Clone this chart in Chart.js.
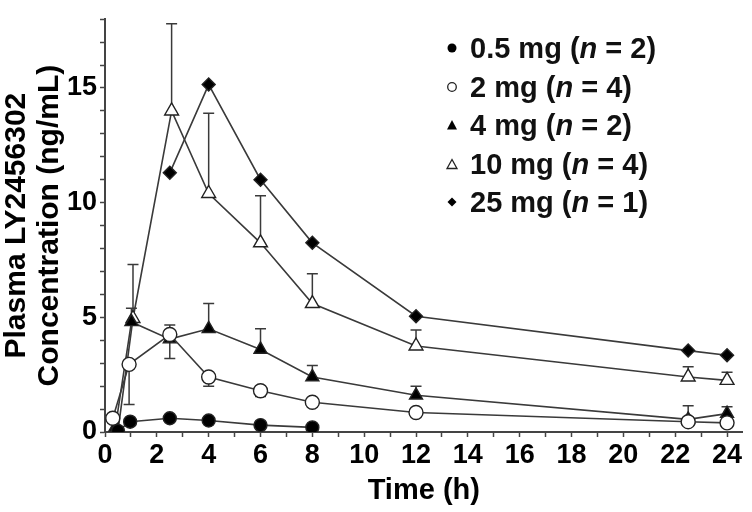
<!DOCTYPE html>
<html>
<head>
<meta charset="utf-8">
<script src="https://cdn.jsdelivr.net/npm/chart.js@4.4.1/dist/chart.umd.min.js"></script>
<style>
  body { margin: 0; background: #fff; }
  #wrap { position: relative; width: 752px; height: 512px; }
  #legend {
    position: absolute; left: 443px; top: 29px;
    font-family: 'Liberation Sans', Arial, sans-serif;
    font-weight: bold; font-size: 29px; color: #111;
  }
  #legend div { height: 38.5px; line-height: 38.5px; white-space: nowrap; }
  #legend svg { width: 18px; height: 14px; vertical-align: middle; margin-right: 9px; position: relative; top: -2px; }
</style>
</head>
<body>
<div id="wrap">
  <canvas id="pkChart" width="752" height="512"></canvas>
  <div id="legend"></div>
</div>
<script>
// time points (h) per dose group
const times05 = [0.5, 0.97, 2.5, 4, 6, 8];
const times2 = [0.3, 0.93, 2.5, 4, 6, 8, 12, 22.5, 24];
const times4 = [0.4, 1.02, 2.5, 4, 6, 8, 12, 22.5, 24];
const times10 = [0.5, 1.08, 2.57, 4, 6, 8, 12, 22.5, 24];
const times25 = [2.5, 4, 6, 8, 12, 22.5, 24];

// mean plasma concentration (ng/mL)
const conc05 = [0.05, 0.45, 0.6, 0.5, 0.3, 0.2];
const conc2 = [0.6, 2.95, 4.25, 2.4, 1.8, 1.3, 0.85, 0.45, 0.4];
const conc4 = [0.2, 4.8, 4.05, 4.5, 3.6, 2.4, 1.6, 0.55, 0.8];
const conc10 = [0.05, 4.95, 14.0, 10.4, 8.25, 5.6, 3.75, 2.4, 2.25];
const conc25 = [11.3, 15.15, 11.0, 8.25, 5.05, 3.55, 3.35];

// SD (one-sided error bars)
const sd2 = [0, 1.75, 1.05, 0.4, 0.25, 0, 0, 0, 0];
const sd4 = [0, 0.6, 0.62, 1.1, 0.9, 0.5, 0.4, 0.6, 0.3];
const sd10 = [0, 2.35, 3.8, 3.5, 2.05, 1.3, 0.7, 0.45, 0.35];

const legendLabels = ['0.5 mg', '2 mg', '4 mg', '10 mg', '25 mg'];
const legendN = [2, 4, 2, 4, 1];

const xTicks = [];
for (let i = 0; i <= 24; i++) xTicks.push(i);
const yTicks = [];
for (let i = 0; i <= 18; i++) yTicks.push(i);

const FONT = "'Liberation Sans', Arial, sans-serif";
const LINE = '#3a3a3a';

function pts(xs, ys) {
    return xs.map((x, i) => ({ x: x, y: ys[i] }));
}

const errorBars = {
    id: 'errorBars',
    beforeDatasetsDraw(chart) {
        const ctx = chart.ctx;
        const xs = chart.scales.x, ys = chart.scales.y;
        ctx.save();
        ctx.strokeStyle = LINE;
        ctx.lineWidth = 1.5;
        chart.data.datasets.forEach(ds => {
            if (!ds.sd) return;
            ds.data.forEach((p, i) => {
                const s = ds.sd[i];
                if (!s) return;
                const px = xs.getPixelForValue(p.x);
                const y0 = ys.getPixelForValue(p.y);
                const y1 = ys.getPixelForValue(p.y + ds.sdDir * s);
                ctx.beginPath();
                ctx.moveTo(px, y0);
                ctx.lineTo(px, y1);
                ctx.moveTo(px - 5.5, y1);
                ctx.lineTo(px + 5.5, y1);
                ctx.stroke();
            });
        });
        ctx.restore();
    }
};

const datasets = [
    { label: legendLabels[0], data: pts(times05, conc05), pointStyle: 'circle', pointRadius: 6.5,
      backgroundColor: '#000', borderColor: LINE },
    { label: legendLabels[1], data: pts(times2, conc2), pointStyle: 'circle', pointRadius: 7,
      backgroundColor: '#fff', borderColor: LINE, sd: sd2, sdDir: -1 },
    { label: legendLabels[2], data: pts(times4, conc4), pointStyle: 'triangle', pointRadius: 7.5,
      backgroundColor: '#000', borderColor: LINE, sd: sd4, sdDir: 1 },
    { label: legendLabels[3], data: pts(times10, conc10), pointStyle: 'triangle', pointRadius: 8,
      backgroundColor: '#fff', borderColor: LINE, sd: sd10, sdDir: 1 },
    { label: legendLabels[4], data: pts(times25, conc25), pointStyle: 'rectRot', pointRadius: 6.5,
      backgroundColor: '#000', borderColor: LINE }
];
datasets.forEach(d => {
    d.borderWidth = 1.6;
    d.pointBorderWidth = 1.4;
    d.pointBorderColor = '#222';
    d.pointBackgroundColor = d.backgroundColor;
    d.showLine = true;
    d.tension = 0;
});

const ctx = document.getElementById('pkChart');
new Chart(ctx, {
    type: 'scatter',
    data: { datasets: datasets },
    plugins: [errorBars],
    options: {
        responsive: false,
        devicePixelRatio: 1,
        animation: false,
        layout: { padding: { top: 2, right: 5, left: 0, bottom: 0 } },
        plugins: { legend: { display: false }, tooltip: { enabled: false } },
        scales: {
            x: {
                type: 'linear', min: 0, max: 24.6,
                afterBuildTicks: s => { s.ticks = xTicks.map(v => ({ value: v })); },
                afterFit: s => { s.height = 80; },
                ticks: {
                    autoSkip: false, maxRotation: 0, padding: 2, color: '#000',
                    font: { family: FONT, size: 27, weight: 'bold' },
                    callback: v => (v % 2 === 0 ? v : '')
                },
                grid: { drawOnChartArea: false, tickLength: 5, color: '#444', tickWidth: 1.5 },
                border: { color: '#444', width: 2 },
                title: { display: true, text: 'Time (h)', color: '#000', padding: { top: 2 },
                         font: { family: FONT, size: 29, weight: 'bold' } }
            },
            y: {
                min: 0, max: 18,
                afterBuildTicks: s => { s.ticks = yTicks.map(v => ({ value: v })); },
                afterFit: s => { s.width = 105; },
                ticks: {
                    autoSkip: false, padding: 3, color: '#000',
                    font: { family: FONT, size: 27, weight: 'bold' },
                    callback: v => (v % 5 === 0 ? v : '')
                },
                grid: { drawOnChartArea: false, tickLength: 5, color: '#444', tickWidth: 1.5 },
                border: { color: '#444', width: 2 },
                title: { display: true, text: ['Plasma LY2456302', 'Concentration (ng/mL)'], color: '#000',
                         padding: { top: 0, bottom: 0 },
                         font: { family: FONT, size: 30, weight: 'bold', lineHeight: 1.1 } }
            }
        }
    }
});

// legend with italic n
const markerSvg = [
    '<svg viewBox="0 0 18 14"><circle cx="9" cy="7" r="4.5" fill="#000"/></svg>',
    '<svg viewBox="0 0 18 14"><circle cx="9" cy="7" r="4.3" fill="#fff" stroke="#222" stroke-width="1.3"/></svg>',
    '<svg viewBox="0 0 18 14"><polygon points="9,2 14,11.5 4,11.5" fill="#000"/></svg>',
    '<svg viewBox="0 0 18 14"><polygon points="9,2.5 14,11.5 4,11.5" fill="#fff" stroke="#222" stroke-width="1.3"/></svg>',
    '<svg viewBox="0 0 18 14"><polygon points="9,2.5 13.5,7 9,11.5 4.5,7" fill="#000"/></svg>'
];
const legendEl = document.getElementById('legend');
legendLabels.forEach((lab, i) => {
    const row = document.createElement('div');
    row.innerHTML = markerSvg[i] + lab + ' (<i>n</i> = ' + legendN[i] + ')';
    legendEl.appendChild(row);
});
</script>
</body>
</html>
